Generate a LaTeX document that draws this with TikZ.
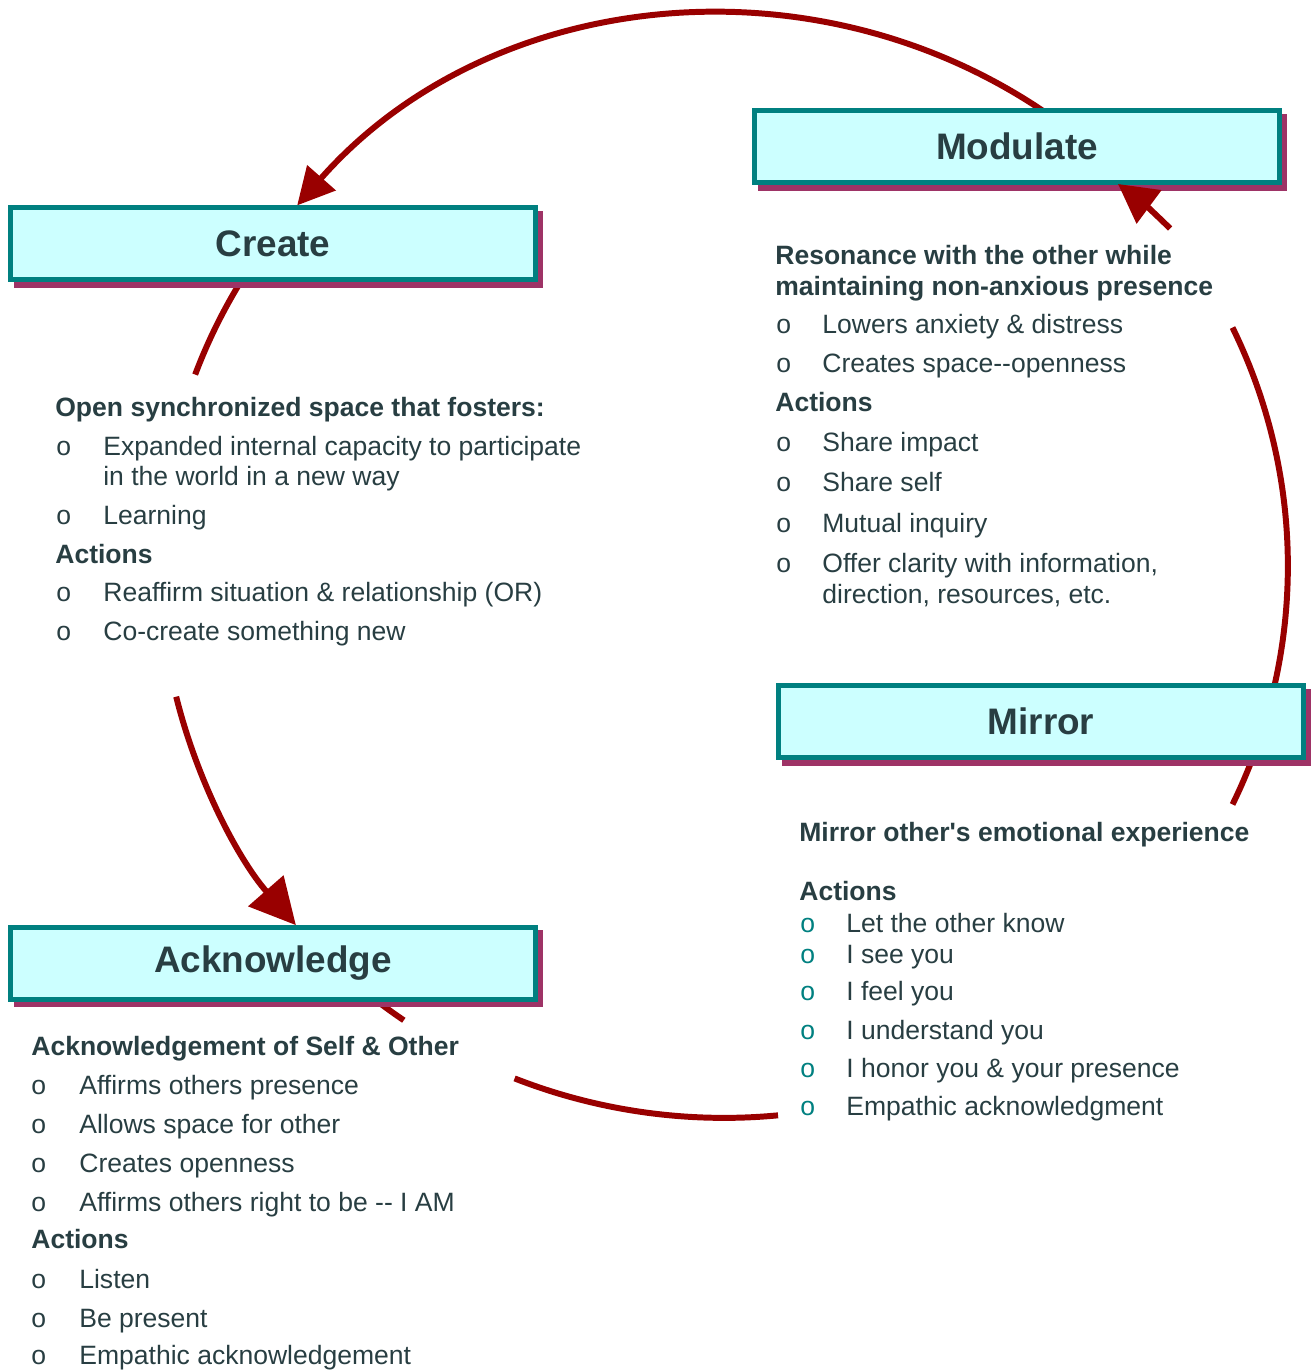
\documentclass[tikz,border=0pt]{standalone}
\usepackage{fontspec}
\newfontfamily\cardfont{Liberation Sans}
\usetikzlibrary{arrows.meta,shadows}
\definecolor{cardfill}{HTML}{CCFFFF}
\definecolor{cardedge}{HTML}{008080}
\definecolor{cardshade}{HTML}{9E3366}
\definecolor{loopred}{HTML}{990000}
\definecolor{inktext}{RGB}{40,62,66}

\begin{document}
\begin{tikzpicture}[
  x=0.02cm, y=-0.02cm,
  stage/.style={
    draw=cardedge,
    fill=cardfill,
    line width=2.85pt,
    minimum width=10.5cm,
    minimum height=1.44cm,
    text=inktext,
    font=\cardfont\fontsize{21}{25}\selectfont\bfseries,
    drop shadow={shadow xshift=0.11cm, shadow yshift=-0.11cm,
      fill=cardshade, draw=cardshade, line width=2.85pt, opacity=1}
  },
  itemtext/.style={
    anchor=base west,
    inner sep=0pt,
    text=inktext,
    font=\cardfont\fontsize{15.1}{18}\selectfont
  },
  headtext/.style={
    itemtext,
    font=\cardfont\fontsize{15.1}{18}\selectfont\bfseries
  },
  bullet/.style={itemtext},
  loopline/.style={draw=loopred, line width=3.4pt},
  >=latex
]
\useasboundingbox (0,0) rectangle (1312,1370);

\coordinate (hub) at (724,566);
\draw[loopline, -{Triangle[length=21pt,width=21pt]}] (hub) ++(50:11.28cm and 11.04cm)
  arc[start angle=50, end angle=139.2, x radius=11.28cm, y radius=11.04cm];
\draw[loopline] (hub) ++(147:11.28cm and 11.04cm)
  arc[start angle=147, end angle=159.7, x radius=11.28cm, y radius=11.04cm];
\draw[loopline, -{Triangle[length=26pt,width=26pt]}] (hub) ++(193.7:11.28cm and 11.04cm)
  arc[start angle=193.7, end angle=220.6, x radius=11.28cm, y radius=11.04cm];
\draw[loopline] (hub) ++(228:11.28cm and 11.04cm)
  arc[start angle=228, end angle=235.4, x radius=11.28cm, y radius=11.04cm];
\draw[loopline] (hub) ++(248.2:11.28cm and 11.04cm)
  arc[start angle=248.2, end angle=275.5, x radius=11.28cm, y radius=11.04cm];
\draw[loopline] (hub) ++(-25.6:11.28cm and 11.04cm)
  arc[start angle=-25.6, end angle=25.6, x radius=11.28cm, y radius=11.04cm];

\node[stage] (create) at (273,243.5) {Create};
\node[stage] (modulate) at (1017,146.5) {Modulate};
\node[stage] (mirror) at (1041,721.5) {Mirror};
\node[stage] (acknowledge) at (273,963) {Acknowledge};

\coordinate (mo-in) at (1118,184);
\draw[loopline, -{Triangle[length=22pt,width=23pt]}] (hub) ++(37.7:11.28cm and 11.04cm)
  to[bend right=4] (mo-in);

\node[headtext] (cr-head) at (55,416) {Open synchronized space that fosters:};
\foreach \n/\y/\t in {a/455/Expanded internal capacity to participate, b/524/Learning,
    c/601/Reaffirm situation \& relationship (OR), d/640/Co-create something new}{
  \node[bullet] (cr-o\n) at (56,\y) {o};
  \node[itemtext] (cr-\n) at (103,\y) {\t};
}
\node[itemtext] (cr-a2) at (103,485) {in the world in a new way};
\node[headtext] (cr-act) at (55,563) {Actions};

\node[headtext] (mo-head) at (775,264) {Resonance with the other while};
\node[headtext] (mo-head2) at (775,295) {maintaining non-anxious presence};
\foreach \n/\y/\t in {a/333/Lowers anxiety \& distress, b/372/Creates space--openness,
    c/451/Share impact, d/491/Share self, e/532/Mutual inquiry,
    f/572/{Offer clarity with information,}}{
  \node[bullet] (mo-o\n) at (776,\y) {o};
  \node[itemtext] (mo-\n) at (822,\y) {\t};
}
\node[itemtext] (mo-f2) at (822,603) {direction, resources, etc.};
\node[headtext] (mo-act) at (775,411) {Actions};

\node[headtext] (mi-head) at (799,841) {Mirror other's emotional experience};
\node[headtext] (mi-act) at (799,900) {Actions};
\foreach \n/\y/\t in {a/932/Let the other know, b/963/I see you, c/1000/I feel you,
    d/1039/I understand you, e/1077/I honor you \& your presence,
    f/1115/Empathic acknowledgment}{
  \node[bullet, text=cardedge] (mi-o\n) at (800,\y) {o};
  \node[itemtext] (mi-\n) at (846,\y) {\t};
}

\node[headtext] (ac-head) at (31,1055) {Acknowledgement of Self \& Other};
\foreach \n/\y/\t in {a/1094/Affirms others presence, b/1133/Allows space for other,
    c/1172/Creates openness, d/1211/Affirms others right to be -- I AM,
    e/1288/Listen, f/1327/Be present, g/1364/Empathic acknowledgement}{
  \node[bullet] (ac-o\n) at (31,\y) {o};
  \node[itemtext] (ac-\n) at (79,\y) {\t};
}
\node[headtext] (ac-act) at (31,1248) {Actions};
\end{tikzpicture}
\end{document}
